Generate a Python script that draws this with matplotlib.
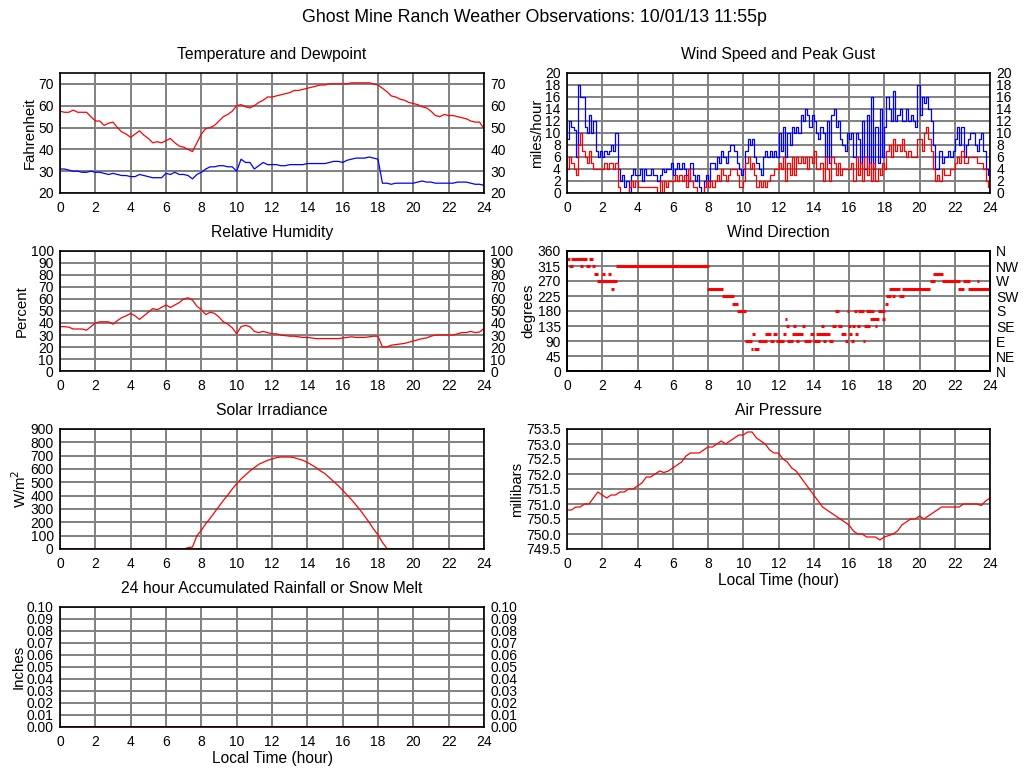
import numpy as np
import matplotlib
matplotlib.use('Agg')
import matplotlib.pyplot as plt

plt.rcParams['font.family'] = ['Liberation Sans', 'DejaVu Sans']

# quarter-hour samples
hours_q = np.linspace(0, 24, 97)
# eighth-hour samples for wind
hours_e = np.linspace(0, 24, 193)

temp_f = [57.5, 57, 57, 58, 57, 57, 57, 55, 53, 53, 51, 52, 52.5, 50, 48, 47,
          45.5, 47, 48.5, 46.5, 45, 43, 43.5, 43, 44, 45, 43, 41.5, 41, 40, 39, 43,
          47, 49.5, 50, 51, 53, 55, 56, 57.5, 60, 60.5, 59.5, 59, 60, 61.5, 62.5, 64,
          64, 64.5, 65, 65.5, 66, 67, 67, 67.5, 68, 68.5, 69, 69.5, 69.5, 70, 70, 70,
          70, 70, 70.5, 70.5, 70.5, 70.5, 70.5, 70, 69.5, 68, 66.5, 64.5, 64, 63, 62.5, 61.5,
          61, 60.5, 59.5, 59, 57.5, 55.5, 55, 56, 55.5, 55.5, 55, 54.5, 54, 53, 52.5, 52.5,
          49.5]
dewpoint_f = [31, 31, 30.5, 30, 30, 29.5, 29.5, 30, 29.5, 29.5, 29, 28.5, 29, 28.5, 28, 28,
              27.5, 27.5, 28.5, 28, 27.5, 27, 27, 27, 29, 28.5, 29.5, 28.5, 28.5, 28, 26.5, 28.5,
              29.5, 31, 32, 32, 32.5, 32.5, 32, 32, 30, 35.5, 34, 34, 31, 32.5, 34, 33,
              33, 33, 32.5, 32.5, 33, 33, 33, 33, 33.5, 33.5, 33.5, 33.5, 33.5, 34, 34.5, 34.5,
              34, 35, 35.5, 36, 36, 36, 36.5, 36, 35.5, 24.5, 24.5, 24, 24.5, 24.5, 24.5, 24.5,
              24.5, 25, 25.5, 25, 25, 24.5, 24.5, 24.5, 24.5, 24.5, 25, 25, 25, 24.5, 24, 24,
              23.5]
humidity = [37, 37, 36.5, 35, 35, 35, 34, 37, 40, 41, 41, 41, 39, 42, 44.5, 46,
            48, 46, 43, 46, 49, 52, 51, 53, 55, 53, 55, 57, 60, 61, 59, 54,
            51, 47, 49, 48, 45, 41, 39, 36, 31, 37, 38, 37, 33, 32, 33, 32,
            31, 31, 30, 29.5, 29, 29, 28.5, 28, 28, 27.5, 27, 27, 27, 27, 27, 27,
            27.5, 28, 28.5, 28, 28, 28, 28.5, 29, 29, 20, 20, 21.5, 22, 22.5, 23, 24,
            25, 26, 27, 27.5, 29, 30, 30, 30, 30, 30, 31, 32, 32, 33, 32, 32.5,
            35.5]
solar = [0] * 28 + [0, 10, 15, 100, 140, 190, 230, 275, 320, 365, 405, 450,
                    490, 525, 555, 585, 610, 635, 650, 665, 675, 685, 690, 690,
                    690, 685, 675, 665, 650, 630, 610, 585, 565, 535, 505, 475,
                    440, 405, 370, 330, 290, 245, 200, 150, 105, 50, 5, 0] + [0] * 21
pressure = [750.8, 750.8, 750.9, 750.9, 751.0, 751.0, 751.2, 751.4,
            751.3, 751.2, 751.3, 751.3, 751.4, 751.4, 751.5, 751.5,
            751.6, 751.7, 751.9, 751.9, 752.0, 752.1, 752.05, 752.1,
            752.2, 752.3, 752.4, 752.6, 752.7, 752.7, 752.7, 752.8,
            752.9, 752.9, 753.0, 753.1, 753.0, 753.1, 753.2, 753.3,
            753.3, 753.4, 753.4, 753.2, 753.1, 753.0, 752.8, 752.7,
            752.7, 752.5, 752.4, 752.2, 752.1, 751.9, 751.7, 751.5,
            751.3, 751.1, 750.9, 750.8, 750.7, 750.6, 750.5, 750.4,
            750.3, 750.1, 750.0, 750.0, 749.9, 749.9, 749.9, 749.8,
            749.9, 749.95, 750.0, 750.1, 750.3, 750.4, 750.5, 750.5,
            750.6, 750.5, 750.6, 750.7, 750.8, 750.9, 750.9, 750.9,
            750.9, 750.9, 751.0, 751.0, 751.0, 751.0, 750.95, 751.1,
            751.2]
rain_hours = [0, 24]
rain_in = [0, 0]

gust_mph = [9, 12, 11, 10.5, 6, 18, 16, 16, 11, 10, 13, 10, 12, 7, 6, 7,
            6, 7, 6.5, 7, 8, 7, 10, 4, 2, 3, 1, 2, 0, 3, 4, 3,
            3, 4, 2, 4, 3, 3, 4, 3, 3, 2, 3, 4, 3.5, 4, 4, 5,
            3, 4, 5, 4, 5, 4, 3, 2, 5, 3, 2, 3, 1, 0, 2, 3,
            2, 5, 5, 4, 6, 5, 7, 6, 5, 7, 8, 8, 7, 5, 4, 3,
            4, 7, 9, 8, 9, 6, 5, 4, 3, 6, 7, 6, 7, 6, 7, 6,
            10, 7, 11, 6, 10, 8, 11, 10, 11, 10, 13, 12, 14, 13, 11, 13,
            12, 10, 9, 11, 10, 6, 12, 5, 13, 14, 11, 12, 9, 8, 7, 10,
            9, 10, 6, 10, 9, 5, 12, 4, 13, 5, 16, 4, 11, 5, 14, 6,
            11, 16, 14, 12, 17, 12, 13, 14, 12, 12, 14, 12, 13, 12, 11, 18,
            13, 16, 15, 16, 14, 12, 8, 4, 4, 7, 5, 6, 6, 7, 6, 7,
            9, 11, 8, 11, 6, 8, 9, 10, 10, 8, 7, 9, 10, 7, 4, 3,
            4]
speed_mph = [4, 6, 5, 4, 3, 8, 10, 7, 6, 5, 7, 5, 4, 4, 4, 4,
             4, 5, 4, 5, 5, 4, 5, 1, 0, 0, 0, 0, 1, 2, 1, 2,
             1, 1, 1, 1, 1, 1, 1, 1, 1, 0, 2, 0, 2, 1, 2, 2,
             2, 3, 2, 3, 2, 3, 1, 4, 2, 1, 1, 0, 0, 0, 1, 2,
             1, 2, 1, 2, 3, 2, 4, 3, 2, 3, 4, 4, 4, 3, 1, 1,
             2, 5, 6, 4, 5, 3, 1, 2, 1, 2, 1, 2, 3, 3, 4, 4,
             5, 4, 6, 2, 5, 3, 6, 3, 6, 5, 6, 5, 6, 4, 6, 5,
             7, 4, 4, 5, 2, 6, 4, 2, 6, 5, 3, 5, 3, 4, 4, 4,
             4, 5, 2, 6, 3, 5, 2, 6, 3, 5, 2, 5, 2, 4, 3, 5,
             4, 7, 8, 6, 9, 7, 8, 7, 9, 7, 6, 7, 6, 6, 6, 9,
             9, 7, 10, 11, 9, 7, 4, 2, 3, 2, 4, 3, 3, 3, 4, 4,
             5, 6, 5, 7, 5, 5, 6, 6, 6, 6, 5, 5, 5, 4, 2, 1,
             1]

# wind direction as runs of constant reading: start hour, end hour, degrees
dir_start = [0.0, 0.23, 1.26, 0.11, 0.74, 1.07, 1.41, 2.77, 1.53, 1.98, 2.32, 1.7,
             2.49, 7.94, 8.8, 9.36, 9.64, 0.9, 3.46, 7.6,
             10.09, 10.83, 11.51, 11.85, 12.47, 12.98, 13.43, 13.94, 14.51, 14.85, 15.75, 16.1, 16.77,
             10.43, 10.6,
             10.49, 11.23, 11.68, 12.25, 12.75, 13.77, 14.11, 15.53, 15.98, 16.32,
             12.42, 12.81, 13.32, 14.4, 15.02, 15.36, 15.92, 16.15, 16.43, 16.83, 17.45,
             12.36, 17.17, 17.9,
             15.19, 15.87, 16.26, 16.49, 16.94, 17.62,
             18.02, 18.08, 18.43, 18.85, 18.25, 19.0,
             20.57, 21.27, 22.44, 23.25, 20.74, 22.17, 22.78]
dir_end = [0.17, 1.13, 1.47, 0.34, 0.9, 1.3, 1.58, 8.04, 1.75, 2.15, 2.49, 2.83,
           2.66, 8.83, 9.45, 9.7, 10.13, 1.04, 3.55, 7.77,
           10.49, 11.34, 11.74, 12.3, 12.81, 13.15, 13.83, 14.34, 14.68, 15.08, 15.92, 16.26, 16.89,
           10.55, 10.89,
           10.66, 11.57, 11.9, 12.42, 13.38, 14.0, 14.91, 15.81, 16.15, 16.49,
           12.58, 12.98, 13.49, 14.57, 15.25, 15.58, 16.1, 16.32, 16.6, 17.17, 17.57,
           12.47, 17.68, 18.07,
           15.42, 15.98, 16.43, 16.83, 17.4, 18.02,
           18.19, 18.36, 18.6, 19.1, 18.9, 20.62,
           20.9, 22.3, 22.84, 23.4, 21.36, 22.55, 24.0]
dir_deg = [337.5, 337.5, 337.5, 315, 315, 315, 315, 315, 292.5, 292.5, 292.5, 270,
           247.5, 247.5, 225, 202.5, 180, 0, 0, 0,
           90, 90, 90, 90, 90, 90, 90, 90, 90, 90, 90, 90, 90,
           67.5, 67.5,
           112.5, 112.5, 112.5, 112.5, 112.5, 112.5, 112.5, 112.5, 112.5, 112.5,
           135, 135, 135, 135, 135, 135, 135, 135, 135, 135, 135,
           157.5, 157.5, 157.5,
           180, 180, 180, 180, 180, 180,
           202.5, 225, 225, 225, 247.5, 247.5,
           270, 270, 270, 270, 292.5, 247.5, 247.5]
compass = ['N', 'NE', 'E', 'SE', 'S', 'SW', 'W', 'NW', 'N']

fig = plt.figure(figsize=(10.24, 7.68), dpi=100)
W, H = 1024.0, 768.0
LABEL_FS = 10.8
TICK_FS = 10


def make_axes(x0, x1, y0, y1):
    ax = fig.add_axes([x0 / W, 1 - y1 / H, (x1 - x0) / W, (y1 - y0) / H])
    ax.set_xlim(0, 24)
    ax.set_xticks(range(0, 25, 2))
    ax.grid(True, color='#808080', lw=1.4)
    ax.set_axisbelow(True)
    ax.tick_params(length=0, labelsize=TICK_FS)
    ax.tick_params(axis='x', pad=6)
    ax.tick_params(axis='y', pad=4.5)
    for s in ax.spines.values():
        s.set_linewidth(1.2)
    return ax


def style_title(ax, text):
    ax.set_title(text, fontsize=11.3, pad=10)


ax = make_axes(60, 484, 73, 193)
ax.plot(hours_q, temp_f, color='red', lw=0.9)
ax.plot(hours_q, dewpoint_f, color='blue', lw=0.9)
ax.set_ylim(20, 75)
ax.set_yticks(range(20, 71, 10))
ax.tick_params(labelright=True)
ax.set_ylabel('Fahrenheit', fontsize=LABEL_FS, labelpad=1)
style_title(ax, 'Temperature and Dewpoint')

ax = make_axes(567, 990, 73, 193)
ax.plot(hours_e, gust_mph, color='blue', lw=0.9, drawstyle='steps-post')
ax.plot(hours_e, speed_mph, color='red', lw=0.9, drawstyle='steps-post')
ax.set_ylim(0, 20)
ax.set_yticks(range(0, 21, 2))
ax.tick_params(labelright=True)
ax.set_ylabel('miles/hour', fontsize=LABEL_FS, labelpad=1)
style_title(ax, 'Wind Speed and Peak Gust')

ax = make_axes(60, 484, 251, 371)
ax.plot(hours_q, humidity, color='red', lw=0.9)
ax.set_ylim(0, 100)
ax.set_yticks(range(0, 101, 10))
ax.tick_params(labelright=True)
ax.set_ylabel('Percent', fontsize=LABEL_FS, labelpad=1)
style_title(ax, 'Relative Humidity')

ax = make_axes(567, 990, 251, 371)
ax.hlines(dir_deg, dir_start, dir_end, colors='red', lw=2.2)
ax.set_ylim(0, 360)
ax.set_yticks(range(0, 361, 45))
ax.set_ylabel('degrees', fontsize=LABEL_FS, labelpad=1)
ax2 = ax.twinx()
ax2.set_ylim(0, 360)
ax2.set_yticks(range(0, 361, 45))
ax2.set_yticklabels(compass)
ax2.tick_params(length=0, labelsize=TICK_FS, pad=4.5)
for s in ax2.spines.values():
    s.set_linewidth(1.2)
style_title(ax, 'Wind Direction')

ax = make_axes(60, 484, 429, 549)
ax.plot(hours_q, solar, color='red', lw=0.9)
ax.set_ylim(0, 900)
ax.set_yticks(range(0, 901, 100))
ax.set_ylabel('W/m$^2$', fontsize=LABEL_FS, labelpad=1)
style_title(ax, 'Solar Irradiance')

ax = make_axes(567, 990, 429, 549)
ax.plot(hours_q, pressure, color='red', lw=0.9)
ax.set_ylim(749.5, 753.5)
ax.set_yticks(np.arange(749.5, 753.51, 0.5))
ax.yaxis.set_major_formatter(matplotlib.ticker.FormatStrFormatter('%.1f'))
ax.set_ylabel('millibars', fontsize=LABEL_FS, labelpad=1)
ax.set_xlabel('Local Time (hour)', fontsize=11.2, labelpad=1)
style_title(ax, 'Air Pressure')

ax = make_axes(60, 484, 607, 727)
ax.plot(rain_hours, rain_in, color='red', lw=1.2)
ax.set_ylim(0, 0.10)
ax.set_yticks(np.arange(0, 0.1001, 0.01))
ax.yaxis.set_major_formatter(matplotlib.ticker.FormatStrFormatter('%.2f'))
ax.tick_params(labelright=True)
ax.set_ylabel('Inches', fontsize=LABEL_FS, labelpad=1)
ax.set_xlabel('Local Time (hour)', fontsize=11.2, labelpad=1)
style_title(ax, '24 hour Accumulated Rainfall or Snow Melt')

fig.text(534 / W, 1 - 18 / H, 'Ghost Mine Ranch Weather Observations: 10/01/13 11:55p',
         ha='center', va='center', fontsize=12.8)

fig.savefig('out.png', dpi=100)
